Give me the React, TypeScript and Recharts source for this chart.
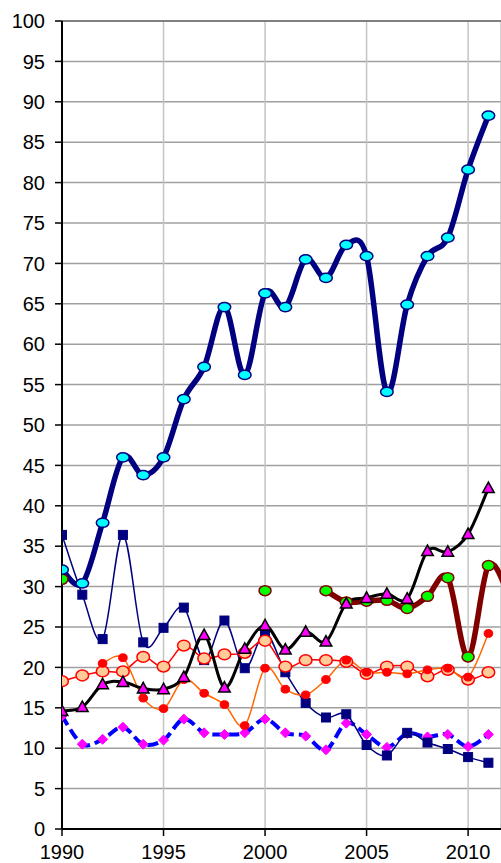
import React from 'react';
import { LineChart, Line, XAxis, YAxis, CartesianGrid, ReferenceLine } from 'recharts';

const years = [1990, 1991, 1992, 1993, 1994, 1995, 1996, 1997, 1998, 1999, 2000, 2001, 2002, 2003, 2004, 2005, 2006, 2007, 2008, 2009, 2010, 2011, 2012];
const cyanSeries = [32.1, 30.4, 37.9, 46.0, 43.8, 46.0, 53.2, 57.2, 64.6, 56.2, 66.3, 64.6, 70.5, 68.2, 72.3, 70.9, 54.1, 64.9, 70.9, 73.2, 81.6, 88.3, null];
const squareSeries = [36.4, 29.0, 23.5, 36.4, 23.1, 24.9, 27.4, 20.9, 25.8, 19.9, 24.3, 19.4, 15.6, 13.8, 14.2, 10.4, 9.1, 11.9, 10.7, 9.9, 8.9, 8.2, null];
const triangleSeries = [14.6, 15.1, 17.9, 18.2, 17.4, 17.3, 18.8, 24.0, 17.5, 22.3, 25.2, 22.2, 24.4, 23.2, 27.9, 28.6, 29.1, 28.5, 34.4, 34.3, 36.5, 42.2, null];
const greenSeries = [30.9, null, null, null, null, null, null, null, null, null, 29.5, null, null, 29.5, 28.1, 28.2, 28.3, 27.3, 28.8, 31.1, 21.3, 32.6, 29.0];
const peachSeries = [18.3, 19.0, 19.5, 19.5, 21.3, 20.1, 22.7, 21.1, 21.6, 21.8, 23.3, 20.1, 20.9, 20.9, 20.7, 19.2, 20.1, 20.1, 18.9, 19.7, 18.5, 19.4, null];
const redDotSeries = [null, null, 20.5, 21.2, 16.2, 14.9, 18.5, 16.8, 15.4, 12.8, 19.9, 17.3, 16.6, 18.5, 20.9, 19.4, 19.4, 19.2, 19.7, 19.9, 18.8, 24.2, null];
const diamondSeries = [14.0, 10.5, 11.1, 12.6, 10.5, 11.0, 13.6, 11.9, 11.7, 11.9, 13.6, 11.9, 11.5, 9.8, 13.1, 11.7, 10.1, 11.8, 11.4, 11.7, 10.2, 11.7, null];

const xTicks = [1990, 1995, 2000, 2005, 2010];
const yTicks = [0, 5, 10, 15, 20, 25, 30, 35, 40, 45, 50, 55, 60, 65, 70, 75, 80, 85, 90, 95, 100];

const data = years.map((year, i) => ({
  year,
  cyan: cyanSeries[i],
  square: squareSeries[i],
  triangle: triangleSeries[i],
  green: greenSeries[i],
  peach: peachSeries[i],
  redDot: redDotSeries[i],
  diamond: diamondSeries[i],
}));

// Excel-like smoothing (Catmull-Rom / cardinal with tension 0)
function excelCurve(context: any) {
  let pts: number[][] = [];
  const flush = () => {
    const n = pts.length;
    if (n === 0) return;
    context.moveTo(pts[0][0], pts[0][1]);
    if (n === 1) {
      context.lineTo(pts[0][0], pts[0][1]);
    }
    for (let i = 0; i < n - 1; i++) {
      const p0 = pts[i - 1] || pts[i];
      const p1 = pts[i];
      const p2 = pts[i + 1];
      const p3 = pts[i + 2] || p2;
      context.bezierCurveTo(
        p1[0] + (p2[0] - p0[0]) / 6,
        p1[1] + (p2[1] - p0[1]) / 6,
        p2[0] - (p3[0] - p1[0]) / 6,
        p2[1] - (p3[1] - p1[1]) / 6,
        p2[0],
        p2[1]
      );
    }
    pts = [];
  };
  return {
    areaStart() {},
    areaEnd() {},
    lineStart() {
      pts = [];
    },
    lineEnd() {
      flush();
    },
    point(x: number, y: number) {
      pts.push([+x, +y]);
    },
  };
}

const empty = (key: any) => <g key={key} />;

const ellipseDot = (fill: string, stroke: string, rx: number, ry: number, sw: number) => (props: any) => {
  const { cx, cy, index, value } = props;
  if (cx == null || cy == null || value == null || isNaN(cy)) return empty(index);
  return <ellipse key={index} cx={cx} cy={cy} rx={rx} ry={ry} fill={fill} stroke={stroke} strokeWidth={sw} />;
};

const squareDot = (props: any) => {
  const { cx, cy, index, value } = props;
  if (cx == null || cy == null || value == null || isNaN(cy)) return empty(index);
  return <rect key={index} x={cx - 4.5} y={cy - 4.5} width={9} height={9} fill="#000080" stroke="#000080" strokeWidth={1} />;
};

const triangleDot = (props: any) => {
  const { cx, cy, index, value } = props;
  if (cx == null || cy == null || value == null || isNaN(cy)) return empty(index);
  return (
    <polygon
      key={index}
      points={`${cx},${cy - 6} ${cx + 5.8},${cy + 4.5} ${cx - 5.8},${cy + 4.5}`}
      fill="#ff00ff"
      stroke="#000000"
      strokeWidth={1.5}
      strokeLinejoin="miter"
    />
  );
};

const diamondDot = (props: any) => {
  const { cx, cy, index, value } = props;
  if (cx == null || cy == null || value == null || isNaN(cy)) return empty(index);
  return (
    <polygon
      key={index}
      points={`${cx},${cy - 5} ${cx + 5},${cy} ${cx},${cy + 5} ${cx - 5},${cy}`}
      fill="#ff00ff"
      stroke="#ff00ff"
      strokeWidth={1}
    />
  );
};

const fontFamily = '"Liberation Sans", Arial, sans-serif';

export default function App() {
  return (
    <div style={{ position: 'absolute', left: 0, top: 0, width: 501, height: 863, background: '#fff' }}>
      <LineChart width={501} height={863} data={data} margin={{ top: 21, right: 0, bottom: 0, left: 0 }}>
        <CartesianGrid horizontal={true} vertical={false} stroke="#a0a0a0" strokeWidth={1.5} />
        <CartesianGrid horizontal={false} vertical={true} stroke="#c4c4c4" strokeWidth={1.5} />
        <ReferenceLine y={100} stroke="#808080" strokeWidth={2} />
        <XAxis
          dataKey="year"
          type="number"
          domain={[1990, 2011.62]}
          allowDataOverflow={true}
          ticks={xTicks}
          interval={0}
          height={34}
          tickSize={7}
          tickMargin={9}
          axisLine={{ stroke: '#000', strokeWidth: 2 }}
          tickLine={{ stroke: '#000', strokeWidth: 1.5 }}
          tick={{ fill: '#000', fontSize: 20, fontFamily }}
        />
        <YAxis
          type="number"
          domain={[0, 100]}
          ticks={yTicks}
          interval={0}
          width={62}
          tickSize={7}
          tickMargin={10}
          axisLine={{ stroke: '#000', strokeWidth: 2 }}
          tickLine={{ stroke: '#000', strokeWidth: 1.5 }}
          tick={{ fill: '#000', fontSize: 20, fontFamily }}
        />
        <Line
          dataKey="diamond"
          type={excelCurve as any}
          stroke="#0000ff"
          strokeWidth={4}
          strokeDasharray="11 5"
          dot={diamondDot}
          activeDot={false}
          isAnimationActive={false}
        />
        <Line
          dataKey="square"
          type={excelCurve as any}
          stroke="#000080"
          strokeWidth={1.5}
          dot={squareDot}
          activeDot={false}
          isAnimationActive={false}
        />
        <Line
          dataKey="peach"
          type={excelCurve as any}
          stroke="#ff0000"
          strokeWidth={1.5}
          dot={ellipseDot('#ffcc99', '#ff0000', 6.3, 5.4, 1.5)}
          activeDot={false}
          isAnimationActive={false}
        />
        <Line
          dataKey="redDot"
          type={excelCurve as any}
          stroke="#ff6600"
          strokeWidth={1.5}
          dot={ellipseDot('#ff0000', '#ff0000', 4.3, 3.9, 1)}
          activeDot={false}
          isAnimationActive={false}
        />
        <Line
          dataKey="green"
          type={excelCurve as any}
          stroke="#800000"
          strokeWidth={5.5}
          dot={ellipseDot('#00ff00', '#800000', 6, 5, 1.5)}
          activeDot={false}
          isAnimationActive={false}
        />
        <Line
          dataKey="triangle"
          type={excelCurve as any}
          stroke="#000000"
          strokeWidth={3}
          dot={triangleDot}
          activeDot={false}
          isAnimationActive={false}
        />
        <Line
          dataKey="cyan"
          type={excelCurve as any}
          stroke="#000080"
          strokeWidth={5.5}
          dot={ellipseDot('#00ffff', '#000080', 6.3, 4.6, 1.5)}
          activeDot={false}
          isAnimationActive={false}
        />
      </LineChart>
    </div>
  );
}
